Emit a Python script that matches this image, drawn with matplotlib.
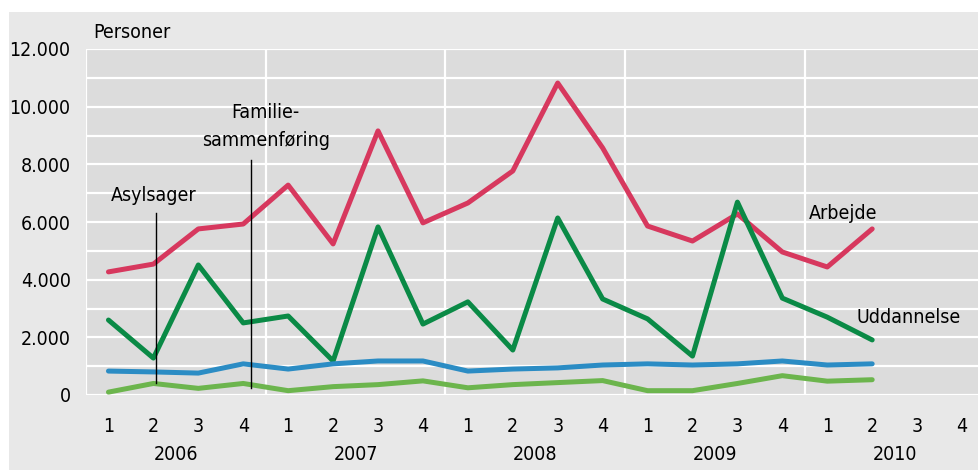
import numpy as np
import matplotlib.pyplot as plt
from matplotlib.transforms import blended_transform_factory

plt.rcParams['font.family'] = ['Liberation Sans Narrow', 'DejaVu Sans']
plt.rcParams['font.stretch'] = 'condensed'

# quarters 2006 Q1 .. 2010 Q2
quarter_labels = ['1', '2', '3', '4'] * 5
years = ['2006', '2007', '2008', '2009', '2010']

arbejde = [4270, 4540, 5760, 5930, 7280, 5240, 9160, 5970, 6660, 7770,
           10820, 8570, 5860, 5340, 6280, 4960, 4440, 5760]
uddannelse = [2600, 1280, 4510, 2500, 2740, 1180, 5830, 2460, 3230, 1560,
              6140, 3330, 2640, 1350, 6690, 3360, 2700, 1910]
familie = [830, 800, 760, 1080, 900, 1080, 1180, 1180, 830, 900,
           940, 1040, 1080, 1040, 1080, 1180, 1040, 1080]
asyl = [100, 400, 230, 400, 150, 290, 360, 490, 250, 360,
        430, 500, 150, 150, 400, 670, 480, 530]

fs = 14

fig = plt.figure(figsize=(9.79, 4.70), dpi=100)
fig.patch.set_facecolor('white')
# light gray frame behind everything
fig.patches.append(plt.Rectangle((9 / 979, 0), 1, 1 - 12 / 470, transform=fig.transFigure,
                                 facecolor='#e8e8e8', edgecolor='none', zorder=-10))

ax = fig.add_axes([86 / 979, 75 / 470, 898.5 / 979, 346 / 470])
ax.set_facecolor('#dcdcdc')
for s in ax.spines.values():
    s.set_visible(False)

x = np.arange(len(arbejde))
ax.set_xlim(-0.5, 19.5)
ax.set_ylim(0, 12000)

for yv in range(0, 12001, 1000):
    ax.axhline(yv, color='white', lw=1.6, zorder=1)
for xv in [-0.5, 3.5, 7.5, 11.5, 15.5]:
    ax.axvline(xv, color='white', lw=1.6, zorder=1)

ax.plot(x, arbejde, color='#d7385e', lw=3.6, zorder=3, solid_capstyle='round')
ax.plot(x, uddannelse, color='#0a8a46', lw=3.6, zorder=3, solid_capstyle='round')
ax.plot(x, familie, color='#2b8cc4', lw=3.6, zorder=3, solid_capstyle='round')
ax.plot(x, asyl, color='#6cb54d', lw=3.6, zorder=3, solid_capstyle='round')

# annotation lines
ax.plot([1.05, 1.05], [400, 6300], color='black', lw=1.0, zorder=4)
ax.plot([3.17, 3.17], [250, 8150], color='black', lw=1.0, zorder=4)
ax.text(1.0, 6600, 'Asylsager', ha='center', va='bottom', fontsize=fs)
ax.text(3.5, 8500, 'Familie-\nsammenføring', ha='center', va='bottom', fontsize=fs,
        linespacing=1.6)
ax.text(16.35, 5950, 'Arbejde', ha='center', va='bottom', fontsize=fs)
ax.text(17.8, 2350, 'Uddannelse', ha='center', va='bottom', fontsize=fs)

ax.set_yticks(range(0, 12001, 2000))
ax.set_yticklabels([f'{v:,}'.replace(',', '.') for v in range(0, 12001, 2000)])
ax.set_xticks(range(20))
ax.set_xticklabels(quarter_labels)
ax.tick_params(axis='both', length=0, labelsize=fs)
ax.tick_params(axis='y', pad=11)
ax.tick_params(axis='x', pad=16)

trans = blended_transform_factory(ax.transData, ax.transAxes)
for i, yr in enumerate(years):
    ax.text(i * 4 + 1.5, -0.173, yr, transform=trans, ha='center', va='center',
            fontsize=fs)

fig.text(93 / 979, 1 - 32 / 470, 'Personer', ha='left', va='center', fontsize=fs)

fig.savefig('out.png', dpi=100)
